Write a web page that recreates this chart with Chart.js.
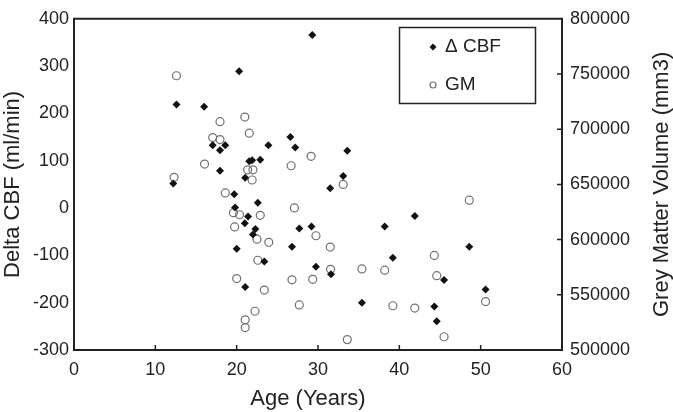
<!DOCTYPE html>
<html>
<head>
<meta charset="utf-8">
<script src="https://cdn.jsdelivr.net/npm/chart.js@4/dist/chart.umd.min.js"></script>
<style>
  html, body { margin: 0; padding: 0; background: #fff; }
  canvas { display: block; }
</style>
</head>
<body>
<canvas id="c" width="673" height="412"></canvas>
<script>
// ΔCBF (left axis) - age / value pairs
const cbfAge = [12.2, 12.6, 16.0, 17.05, 17.95, 18.6, 17.95, 20.3, 21.55, 21.9, 22.9, 23.9, 26.6, 27.2, 29.3,
  21.05, 31.5, 33.1, 33.6, 19.7, 22.6, 19.8, 21.4, 21.0, 22.3, 22.0, 27.7, 29.2, 20.0, 26.8, 23.4,
  29.75, 31.6, 21.05, 38.2, 41.9, 39.2, 48.6, 45.5, 50.6, 35.4, 44.3, 44.6];
const cbfValues = [52, 219, 214, 133, 122, 133, 79, 289, 99, 101, 102, 133, 150, 128, 366,
  64, 42, 68, 121, 29, 11, 1, -18, -32, -44, -56, -43, -39, -86, -82, -113,
  -124, -140, -167, -39, -17, -105, -82, -152, -172, -200, -208, -239];

// grey matter volume (right axis)
const gmAge = [12.6, 17.95, 21.0, 21.55, 17.05, 17.95, 29.15, 16.05, 21.35, 22.0, 26.7, 21.9, 12.3, 18.6,
  27.1, 33.1, 48.6, 19.6, 20.35, 22.9, 19.75, 22.5, 23.95, 29.75, 31.5, 22.6, 44.3, 31.55, 35.4,
  38.2, 44.6, 20.0, 26.8, 29.35, 23.4, 27.7, 39.2, 41.9, 50.6, 22.25, 21.05, 21.05, 33.6, 45.5];
const gmValues = [748400, 706800, 711000, 696400, 692400, 690600, 675400, 668400, 663200, 663200, 666900, 654000, 656400, 642300,
  628700, 650000, 635700, 624400, 622500, 622000, 611500, 600400, 597500, 603500, 593200, 581300, 585700, 573100, 573400,
  572300, 567300, 564700, 563600, 564000, 554300, 540800, 540100, 538000, 543900, 535100, 527300, 520300, 509400, 512000];

const xTitle = 'Age (Years)';
const yTitle = 'Delta CBF (ml/min)';
const y1Title = 'Grey Matter Volume (mm3)';

const FONT = '"Liberation Sans", Arial, sans-serif';
const INK = '#222';

function pairs(xs, ys) {
  return xs.map((x, i) => ({ x: x, y: ys[i] }));
}

// frame: top line, inward ticks, titles, boxed legend
const framePlugin = {
  id: 'frame',
  afterDraw(chart) {
    const ctx = chart.ctx;
    const a = chart.chartArea;
    const xs = chart.scales.x;
    const y1 = chart.scales.y1;
    ctx.save();
    ctx.strokeStyle = INK;
    ctx.lineWidth = 2;
    ctx.beginPath();
    ctx.moveTo(a.left - 1, a.top);
    ctx.lineTo(a.right + 1, a.top);
    ctx.stroke();

    ctx.lineWidth = 1.5;
    ctx.beginPath();
    xs.ticks.forEach(t => {
      if (t.value <= xs.min || t.value >= xs.max) return;
      const px = xs.getPixelForValue(t.value);
      ctx.moveTo(px, a.bottom);
      ctx.lineTo(px, a.bottom - 5);
    });
    y1.ticks.forEach(t => {
      if (t.value <= y1.min || t.value >= y1.max) return;
      const py = y1.getPixelForValue(t.value);
      ctx.moveTo(a.right, py);
      ctx.lineTo(a.right - 5, py);
    });
    ctx.stroke();

    ctx.fillStyle = INK;
    ctx.font = '22px ' + FONT;
    ctx.textAlign = 'center';
    ctx.textBaseline = 'alphabetic';
    ctx.fillText(xTitle, 308, 405);

    // right axis title, reading bottom to top
    ctx.textBaseline = 'middle';
    ctx.translate(662, (a.top + a.bottom) / 2);
    ctx.rotate(-Math.PI / 2);
    ctx.fillText(y1Title, 0, 0);
    ctx.restore();

    // legend box
    ctx.save();
    ctx.strokeStyle = INK;
    ctx.lineWidth = 1.5;
    ctx.strokeRect(399.5, 27.5, 136, 76);
    chart.data.datasets.forEach((ds, i) => {
      const cy = 47 + i * 38;
      ctx.fillStyle = ds.backgroundColor;
      ctx.strokeStyle = ds.borderColor;
      ctx.lineWidth = ds.borderWidth;
      ctx.beginPath();
      if (ds.pointStyle === 'circle') {
        ctx.arc(433, cy, 3, 0, Math.PI * 2);
        ctx.stroke();
      } else {
        ctx.moveTo(433, cy - 3.5);
        ctx.lineTo(436.5, cy);
        ctx.lineTo(433, cy + 3.5);
        ctx.lineTo(429.5, cy);
        ctx.closePath();
        ctx.fill();
      }
      ctx.fillStyle = INK;
      ctx.font = '19px ' + FONT;
      ctx.textAlign = 'left';
      ctx.textBaseline = 'middle';
      ctx.fillText(ds.label, 445, cy);
    });
    ctx.restore();
  }
};

new Chart(document.getElementById('c'), {
  type: 'scatter',
  data: {
    datasets: [{
      label: 'Δ CBF',
      data: pairs(cbfAge, cbfValues),
      yAxisID: 'y',
      pointStyle: 'rectRot',
      pointRadius: 4,
      backgroundColor: '#111',
      borderColor: '#111',
      borderWidth: 0
    }, {
      label: 'GM',
      data: pairs(gmAge, gmValues),
      yAxisID: 'y1',
      pointStyle: 'circle',
      pointRadius: 4,
      backgroundColor: 'rgba(0,0,0,0)',
      borderColor: '#707070',
      borderWidth: 1.2
    }]
  },
  options: {
    responsive: false,
    animation: false,
    layout: { padding: { top: 8, left: 0, right: 0, bottom: 0 } },
    plugins: { legend: { display: false }, tooltip: { enabled: false } },
    scales: {
      x: {
        type: 'linear',
        min: 0, max: 60,
        grid: { display: false, drawTicks: false },
        border: { color: INK, width: 2 },
        ticks: { stepSize: 10, padding: 9, color: INK, font: { family: FONT, size: 18 } },
        afterFit(s) { s.height = 62; }
      },
      y: {
        position: 'left',
        min: -300, max: 400,
        grid: { display: false, drawTicks: false },
        border: { color: INK, width: 2 },
        ticks: { stepSize: 100, padding: 5, color: INK, font: { family: FONT, size: 18 } },
        title: { display: true, text: yTitle, color: INK, font: { family: FONT, size: 22 }, padding: { top: 0, bottom: 0 } },
        afterFit(s) { s.width = 74; }
      },
      y1: {
        position: 'right',
        min: 500000, max: 800000,
        grid: { display: false, drawTicks: false },
        border: { color: INK, width: 2 },
        ticks: { stepSize: 50000, padding: 8, color: INK, font: { family: FONT, size: 18 }, callback: v => String(v) },
        afterFit(s) { s.width = 111; }
      }
    }
  },
  plugins: [framePlugin]
});
</script>
</body>
</html>
